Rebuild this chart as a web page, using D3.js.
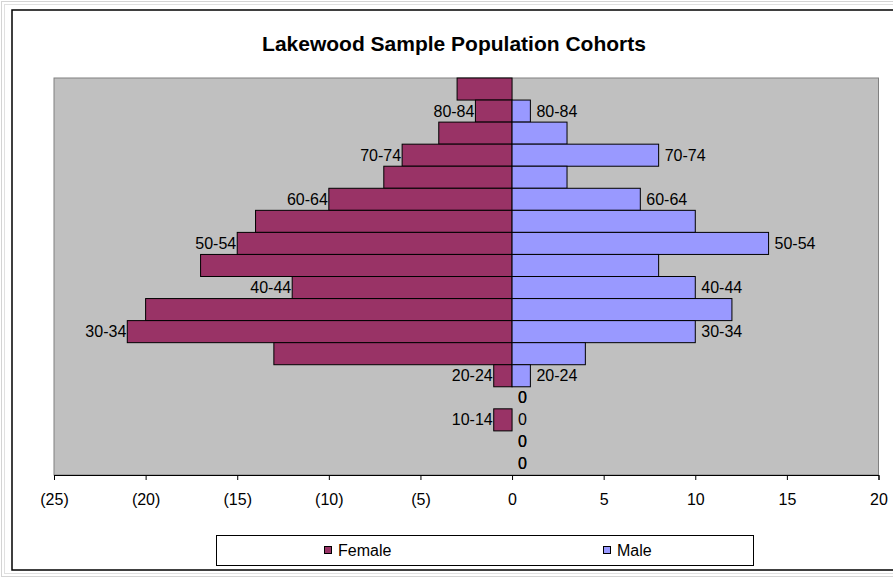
<!DOCTYPE html>
<html>
<head>
<meta charset="utf-8">
<script src="https://cdn.jsdelivr.net/npm/d3@7"></script>
<style>
  html, body { margin: 0; padding: 0; background: #fff; }
  svg { display: block; font-family: "Liberation Sans", Arial, sans-serif; }
</style>
</head>
<body>
<svg id="chart" width="893" height="578"></svg>
<script>
// Age cohorts, oldest first (top of the pyramid)
const cohorts = ["85+", "80-84", "75-79", "70-74", "65-69", "60-64", "55-59", "50-54", "45-49",
                 "40-44", "35-39", "30-34", "25-29", "20-24", "15-19", "10-14", "5-9", "0-4"];
// Female counts are stored negative so they extend left of zero
const female = [-3, -2, -4, -6, -7, -10, -14, -15, -17, -12, -20, -21, -13, -1, 0, -1, 0, 0];
const male   = [ 0,  1,  3,  8,  3,   7,  10,  14,   8,  10,  12,  10,   4,  1, 0,  0, 0, 0];
// Data labels shown beside each bar ("" = no label)
const femaleLabels = ["", "80-84", "", "70-74", "", "60-64", "", "50-54", "", "40-44", "", "30-34", "", "20-24", "0", "10-14", "0", "0"];
const maleLabels   = ["", "80-84", "", "70-74", "", "60-64", "", "50-54", "", "40-44", "", "30-34", "", "20-24", "0", "0", "0", "0"];
const xTicks = [-25, -20, -15, -10, -5, 0, 5, 10, 15, 20];
const seriesNames = ["Female", "Male"];
const colors = { Female: "#993366", Male: "#9999FF" };

const svg = d3.select("#chart");

// Outer frame
svg.append("rect").attr("x", 1.5).attr("y", 1.5).attr("width", 900).attr("height", 575)
  .attr("fill", "none").attr("stroke", "#d4d4d4");
svg.append("rect").attr("x", 4.5).attr("y", 4.5).attr("width", 900).attr("height", 569)
  .attr("fill", "none").attr("stroke", "#e0e0e0");
svg.append("rect").attr("x", 12).attr("y", 10).attr("width", 900).attr("height", 560)
  .attr("fill", "#fff").attr("stroke", "#000").attr("stroke-width", 1.5);

// Title
svg.append("text").attr("x", 454).attr("y", 43).attr("text-anchor", "middle")
  .attr("dominant-baseline", "central").attr("font-size", 21).attr("font-weight", "bold")
  .text("Lakewood Sample Population Cohorts");

const plot = { left: 54, right: 878.5, top: 78, bottom: 475 };

const x = d3.scaleLinear().domain([-25, 20]).range([plot.left, plot.right]);
const y = d3.scaleBand().domain(cohorts).range([plot.top, plot.bottom]).padding(0);

// Plot area
svg.append("rect").attr("x", plot.left).attr("y", plot.top)
  .attr("width", plot.right - plot.left).attr("height", plot.bottom - plot.top)
  .attr("fill", "#C0C0C0").attr("stroke", "#808080").attr("stroke-width", 1);

const rows = cohorts.map((c, i) => ({ cohort: c, female: female[i], male: male[i],
  fLabel: femaleLabels[i], mLabel: maleLabels[i] }));

// Bars
const barG = svg.append("g");
barG.selectAll("rect.female").data(rows.filter(d => d.female !== 0)).join("rect")
  .attr("class", "female")
  .attr("x", d => x(d.female)).attr("y", d => y(d.cohort))
  .attr("width", d => x(0) - x(d.female)).attr("height", y.bandwidth())
  .attr("fill", colors.Female).attr("stroke", "#000").attr("stroke-width", 1);
barG.selectAll("rect.male").data(rows.filter(d => d.male !== 0)).join("rect")
  .attr("class", "male")
  .attr("x", x(0)).attr("y", d => y(d.cohort))
  .attr("width", d => x(d.male) - x(0)).attr("height", y.bandwidth())
  .attr("fill", colors.Male).attr("stroke", "#000").attr("stroke-width", 1);

// Data labels: female at the outer (left) end, male and zero values right of the bar end
const labelG = svg.append("g").attr("font-size", 16).attr("fill", "#000");
labelG.selectAll("text.fl").data(rows.filter(d => d.fLabel !== "")).join("text")
  .attr("class", "fl")
  .attr("x", d => d.female === 0 ? x(0) + 6 : x(d.female) - 1)
  .attr("y", d => y(d.cohort) + y.bandwidth() / 2)
  .attr("text-anchor", d => d.female === 0 ? "start" : "end")
  .attr("dominant-baseline", "central")
  .text(d => d.fLabel);
labelG.selectAll("text.ml").data(rows.filter(d => d.mLabel !== "")).join("text")
  .attr("class", "ml")
  .attr("x", d => x(d.male) + 6)
  .attr("y", d => y(d.cohort) + y.bandwidth() / 2)
  .attr("text-anchor", "start")
  .attr("dominant-baseline", "central")
  .text(d => d.mLabel);

// Horizontal value axis, negative values in parentheses
const fmt = v => v < 0 ? "(" + Math.abs(v) + ")" : String(v);
const axis = d3.axisBottom(x).tickValues(xTicks).tickFormat(fmt).tickSize(5).tickPadding(14);
const axG = svg.append("g").attr("transform", `translate(0,${plot.bottom})`).call(axis);
axG.select(".domain").attr("stroke", "#000");
axG.selectAll(".tick line").attr("stroke", "#000");
axG.selectAll(".tick text").attr("font-size", 16).attr("font-family", "Liberation Sans, Arial, sans-serif")
  .attr("fill", "#000");

// Legend
const legend = svg.append("g");
legend.append("rect").attr("x", 216.5).attr("y", 535.5).attr("width", 537).attr("height", 30)
  .attr("fill", "#fff").attr("stroke", "#000").attr("stroke-width", 1);
const legendX = { Female: 324, Male: 603 };
seriesNames.forEach(name => {
  legend.append("rect").attr("x", legendX[name] + 0.5).attr("y", 546.5).attr("width", 7).attr("height", 7)
    .attr("fill", colors[name]).attr("stroke", "#000").attr("stroke-width", 1);
  legend.append("text").attr("x", legendX[name] + 14).attr("y", 550)
    .attr("dominant-baseline", "central").attr("font-size", 16).text(name);
});
</script>
</body>
</html>
